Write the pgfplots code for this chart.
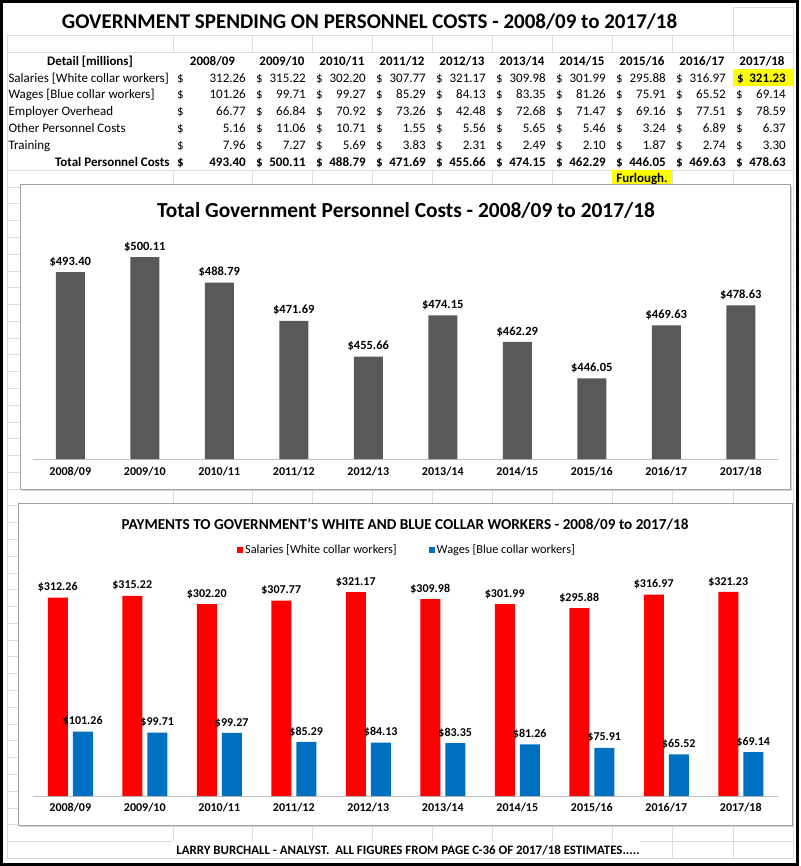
\documentclass[border=0pt]{standalone}
\usepackage{pgfplots}
\pgfplotsset{compat=1.18}
\usepackage{fontspec}
\setmainfont{Carlito}
\definecolor{gridc}{HTML}{DCDCDC}
\definecolor{framec}{HTML}{A0A0A0}
\definecolor{shadowc}{HTML}{D4D4D4}
\definecolor{bargray}{HTML}{595959}
\definecolor{salred}{HTML}{FF0000}
\definecolor{wageblue}{HTML}{0070C0}
\definecolor{axisgray}{HTML}{BFBFBF}
\definecolor{hiyellow}{HTML}{FFFF00}
\newcommand\fs[1]{\fontsize{#1}{#1}\selectfont}
\newcommand{\trow}[3]{%
  \foreach \v [count=\i] in {#3} {
    \pgfmathsetmacro{\cs}{\i==1 ? 173 : 252+60*(\i-2)}
    \pgfmathsetmacro{\ce}{\i==1 ? 252 : 312+60*(\i-2)}
    \node[anchor=base west,font=#2,inner sep=0] at (\cs+4,#1+4.3) {\$};
    \node[anchor=base east,font=#2,inner sep=0] at (\ce-6,#1+4.3) {\v};
  }}
\begin{document}
\begin{tikzpicture}[x=1pt,y=-1pt]
\useasboundingbox (0,0) rectangle (800,866);
\fill[white] (0,0) rectangle (800,866);
% spreadsheet gridlines
\foreach \k in {0,...,40} {\draw[gridc,line width=0.7pt] (7,{187+16.78*\k}) -- (793,{187+16.78*\k});}
\draw[gridc,line width=0.7pt] (7,35.5) -- (793,35.5) (7,52.5) -- (793,52.5) (7,170) -- (793,170) (733,7) -- (793,7);
\foreach \xx in {7,173,252,312,372,432,492,552,612,672,733,793} {\draw[gridc,line width=0.7pt] (\xx,35.5) -- (\xx,858);}
\draw[gridc,line width=0.7pt] (733,7) -- (733,35.5) (793,7) -- (793,35.5);
\fill[white] (7.5,53) rectangle (792.5,169.6);
% title
\node[font=\bfseries\fs{21}] at (369.5,22) {GOVERNMENT SPENDING ON PERSONNEL COSTS - 2008/09 to 2017/18};
% table header
\node[anchor=base,font=\bfseries\fs{13}] at (90,65.3) {Detail [millions]};
\foreach \y [count=\i] in {2008/09,2009/10,2010/11,2011/12,2012/13,2013/14,2014/15,2015/16,2016/17,2017/18} {
  \pgfmathsetmacro{\cm}{\i==1 ? 212.5 : 282+60*(\i-2)}
  \node[anchor=base,font=\bfseries\fs{13}] at (\cm,65.3) {\y};
}
\fill[hiyellow] (733,69.5) rectangle (793,86.2);
\fill[hiyellow] (612,170.3) rectangle (672,187);
\node[anchor=base west,font=\fs{13}] at (5,82.1) {Salaries [White collar workers]};
\node[anchor=base west,font=\fs{13}] at (5,98.9) {Wages [Blue collar workers]};
\node[anchor=base west,font=\fs{13}] at (5,115.7) {Employer Overhead};
\node[anchor=base west,font=\fs{13}] at (5,132.5) {Other Personnel Costs};
\node[anchor=base west,font=\fs{13}] at (5,149.3) {Training};
\node[anchor=base east,font=\bfseries\fs{13}] at (173,166.1) {Total Personnel Costs};
\trow{77.8}{\fs{13}}{312.26,315.22,302.20,307.77,321.17,309.98,301.99,295.88,316.97}
\node[anchor=base west,font=\bfseries\fs{13},inner sep=0] at (737,82.1) {\$};
\node[anchor=base east,font=\bfseries\fs{13},inner sep=0] at (786,82.1) {321.23};
\trow{94.6}{\fs{13}}{101.26,99.71,99.27,85.29,84.13,83.35,81.26,75.91,65.52,69.14}
\trow{111.4}{\fs{13}}{66.77,66.84,70.92,73.26,42.48,72.68,71.47,69.16,77.51,78.59}
\trow{128.2}{\fs{13}}{5.16,11.06,10.71,1.55,5.56,5.65,5.46,3.24,6.89,6.37}
\trow{145}{\fs{13}}{7.96,7.27,5.69,3.83,2.31,2.49,2.10,1.87,2.74,3.30}
\trow{161.8}{\bfseries\fs{13}}{493.40,500.11,488.79,471.69,455.66,474.15,462.29,446.05,469.63,478.63}
\node[anchor=base,font=\bfseries\fs{13}] at (642,182.9) {Furlough.};
% chart frames
\fill[shadowc] (22,187) rectangle (792,491);
\filldraw[fill=white,draw=framec,line width=1pt] (20,185) rectangle (790,489);
\fill[shadowc] (20,505) rectangle (794,827);
\filldraw[fill=white,draw=framec,line width=1pt] (18,503) rectangle (792,825);
\node[font=\bfseries\fs{21.4}] at (406,210) {Total Government Personnel Costs - 2008/09 to 2017/18};
\node[font=\bfseries\fs{15.2}] at (405,524) {PAYMENTS TO GOVERNMENT'S WHITE AND BLUE COLLAR WORKERS - 2008/09 to 2017/18};
% chart 1
\begin{axis}[at={(33pt,-459pt)}, anchor=south west, scale only axis,
  width=745pt, height=246.4pt, xmin=-0.5, xmax=9.5, ymin=410, ymax=520,
  axis x line*=bottom, axis y line=none, x axis line style={axisgray,line width=1pt},
  xtick=data, major tick length=0pt,
  xticklabels={2008/09,2009/10,2010/11,2011/12,2012/13,2013/14,2014/15,2015/16,2016/17,2017/18},
  x tick label style={font=\bfseries\fs{12},yshift=-5pt},
  ybar, bar width=29pt,
  nodes near coords={\$\pgfmathprintnumber[fixed,fixed zerofill,precision=2,assume math mode=true]{\pgfplotspointmeta}},
  nodes near coords style={font=\bfseries\fs{12.5},yshift=2pt,text=black}]
\addplot[fill=bargray,draw=none] coordinates {(0,493.40) (1,500.11) (2,488.79) (3,471.69) (4,455.66) (5,474.15) (6,462.29) (7,446.05) (8,469.63) (9,478.63)};
\end{axis}
% chart 2
\begin{axis}[at={(33pt,-796pt)}, anchor=south west, scale only axis,
  width=745pt, height=235pt, xmin=-0.5, xmax=9.5, ymin=0, ymax=370,
  axis x line*=bottom, axis y line=none, x axis line style={axisgray,line width=1pt},
  xtick=data, major tick length=0pt,
  xticklabels={2008/09,2009/10,2010/11,2011/12,2012/13,2013/14,2014/15,2015/16,2016/17,2017/18},
  x tick label style={font=\bfseries\fs{12},yshift=-4pt},
  ybar, bar width=20pt,
  nodes near coords={\$\pgfmathprintnumber[fixed,fixed zerofill,precision=2,assume math mode=true]{\pgfplotspointmeta}},
  nodes near coords style={font=\bfseries\fs{12},yshift=2pt,text=black},
  legend columns=2,
  legend style={at={(0.502,1.047)},anchor=center,draw=none,fill=none,font=\fs{12.3},
    /tikz/every even column/.append style={column sep=30pt}},
  legend image code/.code={\fill[#1] (0pt,-3pt) rectangle (6pt,3pt);}]
\addplot[fill=salred,draw=none,bar shift=-12.5pt] coordinates {(0,312.26) (1,315.22) (2,302.20) (3,307.77) (4,321.17) (5,309.98) (6,301.99) (7,295.88) (8,316.97) (9,321.23)};
\addplot[fill=wageblue,draw=none,bar shift=12.5pt] coordinates {(0,101.26) (1,99.71) (2,99.27) (3,85.29) (4,84.13) (5,83.35) (6,81.26) (7,75.91) (8,65.52) (9,69.14)};
\legend{Salaries [White collar workers],Wages [Blue collar workers]}
\end{axis}
% footer
\fill[white] (172,841) rectangle (640,857.5);
\node[font=\bfseries\fs{12.9}] at (408,850) {LARRY BURCHALL - ANALYST.\ \ ALL FIGURES FROM PAGE C-36 OF 2017/18 ESTIMATES.....};
% outer border
\draw[black,line width=3pt] (1.5,1.5) rectangle (797.5,864.5);
\end{tikzpicture}
\end{document}
